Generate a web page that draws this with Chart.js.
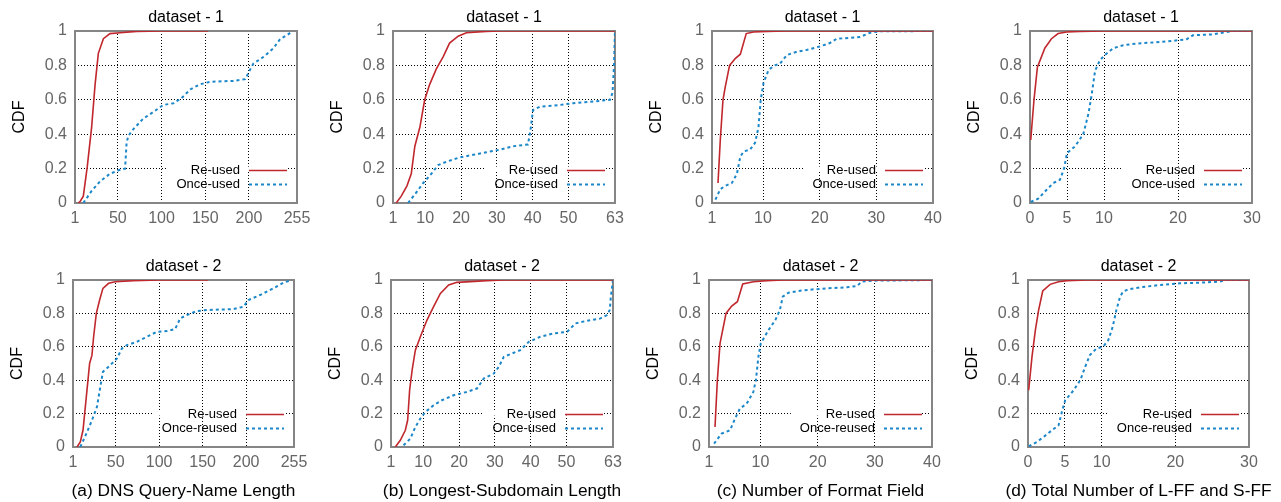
<!DOCTYPE html>
<html>
<head>
<meta charset="utf-8">
<script src="https://cdn.jsdelivr.net/npm/chart.js@4.4.1/dist/chart.umd.min.js"></script>
<style>
  body { margin: 0; width: 1281px; height: 502px; overflow: hidden; background: #fff; position: relative; }
  canvas { position: absolute; }
</style>
</head>
<body>
<script>
// x tick positions for each column
const dnsTicks = [1, 50, 100, 150, 200, 255];
const subTicks = [1, 10, 20, 30, 40, 50, 63];
const fmtTicks = [1, 10, 20, 30, 40];
const ffTicks = [0, 5, 10, 20, 30];
const cdfTicks = [0, 0.2, 0.4, 0.6, 0.8, 1];

// (a) DNS query-name length
const dns1ReX = [4.8, 7, 10.5, 15, 20, 24, 27.7, 33.5, 41, 52.6, 71.7, 100, 153];
const dns1ReY = [0, 0.01, 0.04, 0.21, 0.44, 0.69, 0.87, 0.955, 0.985, 0.99, 0.998, 1, 1];
const dns1OnceX = [10.5, 20, 29.6, 41, 50.7, 58.3, 60, 62, 67.8, 79, 90.8, 102, 113.7, 123, 132.8, 144, 155.7, 182, 195.8, 200.8, 205, 216.8, 228, 236, 243.5, 250];
const dns1OnceY = [0, 0.07, 0.125, 0.17, 0.19, 0.2, 0.35, 0.39, 0.43, 0.49, 0.53, 0.57, 0.58, 0.61, 0.66, 0.69, 0.705, 0.71, 0.72, 0.77, 0.81, 0.85, 0.9, 0.955, 0.975, 1];
const dns2ReX = [5.6, 9.4, 12.5, 16.3, 20.1, 22.8, 24.7, 27.8, 31.6, 35.4, 41.9, 49.6, 70.6, 100, 156];
const dns2ReY = [0, 0.03, 0.1, 0.3, 0.5, 0.55, 0.66, 0.8, 0.88, 0.95, 0.98, 0.99, 0.996, 1, 1];
const dns2OnceX = [9.4, 16.3, 22.8, 28.5, 32.4, 35.4, 43.8, 51.5, 57.2, 63, 74.4, 85.9, 97.4, 108.9, 118.4, 124.2, 131.8, 143.3, 154.8, 185.4, 196.9, 202.6, 216, 231.3, 242.8, 252.4];
const dns2OnceY = [0, 0.08, 0.16, 0.24, 0.36, 0.45, 0.49, 0.53, 0.59, 0.61, 0.63, 0.66, 0.69, 0.694, 0.706, 0.77, 0.79, 0.814, 0.82, 0.826, 0.84, 0.88, 0.91, 0.95, 0.984, 1];

// (b) longest-subdomain length
const sub1ReX = [1.9, 3.3, 4.9, 6.1, 7.1, 8.5, 9.85, 11.25, 13.1, 15, 16.8, 19.2, 21.5, 27, 30.8, 63];
const sub1ReY = [0, 0.04, 0.1, 0.17, 0.33, 0.44, 0.6, 0.69, 0.78, 0.85, 0.93, 0.97, 0.99, 0.998, 1, 1];
const sub1OnceX = [5.2, 7.1, 9.4, 11.7, 13.6, 15.9, 19.6, 23.4, 27.1, 30.8, 34.5, 38.7, 39.4, 40.1, 42, 47.6, 51.3, 56.9, 61.6, 62.3, 62.7, 63];
const sub1OnceY = [0, 0.05, 0.115, 0.17, 0.22, 0.24, 0.265, 0.28, 0.295, 0.31, 0.33, 0.34, 0.425, 0.54, 0.56, 0.57, 0.58, 0.59, 0.6, 0.64, 0.79, 1];
const sub2ReX = [2.2, 3.6, 5, 5.65, 6.2, 6.9, 7.8, 9.2, 11.05, 12.9, 14.8, 17.1, 19.4, 23.2, 27.8, 32.5, 63];
const sub2ReY = [0, 0.04, 0.1, 0.16, 0.34, 0.46, 0.58, 0.66, 0.76, 0.84, 0.92, 0.97, 0.986, 0.99, 0.996, 1, 1];
const sub2OnceX = [4.5, 6.4, 7.8, 9.2, 10.6, 12.9, 15.2, 18.5, 22.2, 25, 26.9, 29.7, 31.1, 32.5, 34.8, 37.1, 39.5, 42.7, 46.4, 50.2, 52.5, 55.7, 59.5, 61.3, 62.1, 62.4, 63];
const sub2OnceY = [0.01, 0.05, 0.12, 0.17, 0.21, 0.25, 0.28, 0.31, 0.33, 0.35, 0.41, 0.44, 0.48, 0.54, 0.56, 0.58, 0.63, 0.66, 0.68, 0.69, 0.74, 0.756, 0.77, 0.79, 0.82, 0.9, 1];

// (c) number of format field
const fmt1ReX = [2.06, 2.47, 2.94, 3.35, 4.1, 5.1, 6, 7.04, 8.3, 10.7, 14, 40];
const fmt1ReY = [0.116, 0.37, 0.6, 0.676, 0.8, 0.84, 0.865, 0.985, 0.994, 0.998, 1, 1];
const fmt1OnceX = [1.6, 2.47, 3.35, 4.5, 5.4, 6, 6.6, 7.7, 8.6, 9.2, 9.6, 10.1, 11, 12.1, 13, 14.2, 16, 17.7, 20, 21.8, 23, 25.3, 27.1, 28.9, 30.6, 40];
const fmt1OnceY = [0.02, 0.08, 0.1, 0.116, 0.17, 0.27, 0.3, 0.31, 0.35, 0.44, 0.6, 0.7, 0.775, 0.8, 0.81, 0.86, 0.88, 0.89, 0.91, 0.93, 0.955, 0.96, 0.965, 0.99, 0.998, 1];
const fmt2ReX = [2.05, 2.46, 2.93, 3.98, 4.97, 5.96, 6.9, 8.76, 11.1, 14, 40];
const fmt2ReY = [0.12, 0.4, 0.62, 0.8, 0.844, 0.87, 0.976, 0.99, 0.996, 1, 1];
const fmt2OnceX = [1.88, 3.2, 4.68, 5.55, 6.4, 7.6, 8.76, 9.2, 9.64, 10.05, 11.4, 12.6, 13.4, 13.9, 14.9, 16.9, 19.3, 21.6, 25.1, 26.9, 27.7, 29.8, 40];
const fmt2OnceY = [0.02, 0.08, 0.1, 0.17, 0.23, 0.26, 0.33, 0.4, 0.54, 0.62, 0.7, 0.76, 0.82, 0.9, 0.924, 0.936, 0.944, 0.95, 0.956, 0.964, 0.99, 0.996, 1];

// (d) total number of L-FF and S-FF
const ff1ReX = [0.1, 0.54, 1.0, 2.0, 2.9, 3.8, 4.95, 6.7, 10, 30];
const ff1ReY = [0.367, 0.6, 0.79, 0.9, 0.955, 0.985, 0.994, 0.998, 1, 1];
const ff1OnceX = [0.1, 1.1, 2.25, 3.15, 4.05, 4.6, 5.0, 6.1, 7.2, 7.9, 8.3, 8.8, 9.45, 10.1, 11.25, 12.6, 14.4, 17.5, 20, 21.1, 22, 24.7, 26.5, 27.4, 30];
const ff1OnceY = [0.006, 0.025, 0.077, 0.116, 0.135, 0.2, 0.29, 0.33, 0.4, 0.52, 0.62, 0.77, 0.83, 0.86, 0.9, 0.917, 0.927, 0.936, 0.946, 0.95, 0.975, 0.98, 0.994, 1, 1];
const ff2ReX = [0.09, 0.54, 1.0, 1.44, 2.0, 3.0, 4.15, 5.3, 8, 30];
const ff2ReY = [0.34, 0.54, 0.7, 0.82, 0.934, 0.974, 0.99, 0.996, 1, 1];
const ff2OnceX = [0.09, 1.2, 2.1, 3.25, 4.15, 4.6, 5.05, 6.2, 7.1, 7.76, 8.4, 9.3, 10.2, 10.9, 11.5, 12.0, 12.5, 12.9, 13.6, 15.2, 17.9, 20.6, 23.3, 26, 26.9, 30];
const ff2OnceY = [0.004, 0.03, 0.06, 0.1, 0.13, 0.21, 0.28, 0.34, 0.4, 0.48, 0.55, 0.59, 0.6, 0.64, 0.72, 0.82, 0.9, 0.93, 0.944, 0.956, 0.97, 0.98, 0.984, 0.99, 1, 1];

const FONT = "'Liberation Sans', Arial, Helvetica, sans-serif";
const RED = '#c0282d';
const BLUE = '#1b87c9';
Chart.defaults.font.family = FONT;

function pts(xs, ys) {
    return xs.map((x, i) => ({ x: x, y: ys[i] }));
}

// border, key (with the 0.2 grid line cleared behind it) and the sub-figure caption
const keyPlugin = {
    id: 'key',
    beforeDatasetsDraw(chart) {
        const { ctx, chartArea: a } = chart;
        const y = chart.scales.y.getPixelForValue(0.2);
        ctx.save();
        ctx.font = '13px ' + FONT;
        const w = Math.max(...chart.data.datasets.map(d => ctx.measureText(d.label).width));
        ctx.fillStyle = '#fff';
        ctx.fillRect(a.right - 57 - w - 9, y - 2, w + 9 + 47, 4);
        ctx.strokeStyle = '#858585';
        ctx.lineWidth = 2;
        ctx.strokeRect(a.left, a.top, a.right - a.left, a.bottom - a.top);
        ctx.restore();
    },
    afterDatasetsDraw(chart, args, opts) {
        const { ctx, chartArea: a } = chart;
        ctx.save();
        ctx.font = '13px ' + FONT;
        ctx.textAlign = 'right';
        ctx.textBaseline = 'middle';
        chart.data.datasets.forEach((d, i) => {
            const y = a.bottom - 32.5 + i * 14;
            ctx.fillStyle = '#000';
            ctx.fillText(d.label, a.right - 57, y);
            ctx.strokeStyle = d.borderColor;
            ctx.lineWidth = d.borderWidth;
            ctx.setLineDash(d.borderDash || []);
            ctx.beginPath();
            ctx.moveTo(a.right - 48, y);
            ctx.lineTo(a.right - 10, y);
            ctx.stroke();
        });
        if (opts.caption) {
            ctx.setLineDash([]);
            ctx.font = '17.3px ' + FONT;
            ctx.textAlign = 'center';
            ctx.fillStyle = '#000';
            ctx.fillText(opts.caption, (a.left + a.right) / 2, a.bottom + 44);
        }
        ctx.restore();
    }
};

function makePanel(p) {
    const [l, t, r, b] = p.rect;
    const bottomH = p.caption ? 55 : 30;
    const cv = document.createElement('canvas');
    cv.width = (r - l) + 105;
    cv.height = (b - t) + 31 + bottomH;
    cv.style.left = (l - 75) + 'px';
    cv.style.top = (t - 31) + 'px';
    document.body.appendChild(cv);

    const gridColor = (ctx) => {
        const v = ctx.tick ? ctx.tick.value : null;
        const s = ctx.scale;
        return (v === s.min || v === s.max) ? 'rgba(0,0,0,0)' : '#000';
    };

    new Chart(cv, {
        type: 'line',
        data: {
            datasets: [{
                label: 'Re-used',
                data: pts(p.reX, p.reY),
                borderColor: RED,
                borderWidth: 1.6,
                pointRadius: 0,
                tension: 0
            }, {
                label: p.onceLabel,
                data: pts(p.onceX, p.onceY),
                borderColor: BLUE,
                borderWidth: 2,
                borderDash: [3, 3],
                pointRadius: 0,
                tension: 0
            }]
        },
        options: {
            responsive: false,
            animation: false,
            layout: { padding: { left: 0, top: 0, right: 30, bottom: 0 } },
            plugins: {
                legend: { display: false },
                tooltip: { enabled: false },
                key: { caption: p.caption },
                title: {
                    display: true,
                    text: p.title,
                    color: '#000',
                    fullSize: false,
                    font: { size: 16, weight: 'normal' },
                    padding: { top: 8.4, bottom: 3.4 }
                }
            },
            scales: {
                x: {
                    type: 'linear',
                    min: p.xMin,
                    max: p.xMax,
                    afterBuildTicks: (s) => { s.ticks = p.xTicks.map(v => ({ value: v })); },
                    afterFit: (s) => { s.height = bottomH; },
                    ticks: { color: '#666', font: { size: 16 }, padding: 6, maxRotation: 0, autoSkip: false, callback: (v) => String(v) },
                    grid: { color: gridColor, lineWidth: 1, drawTicks: false },
                    border: { display: false, dash: [1, 2] }
                },
                y: {
                    min: 0,
                    max: 1,
                    afterBuildTicks: (s) => { s.ticks = cdfTicks.map(v => ({ value: v })); },
                    afterFit: (s) => { s.width = 75; },
                    ticks: { color: '#666', font: { size: 16 }, padding: 8, callback: (v) => String(v) },
                    grid: { color: gridColor, lineWidth: 1, drawTicks: false },
                    border: { display: false, dash: [1, 2] },
                    title: {
                        display: true,
                        text: 'CDF',
                        color: '#000',
                        font: { size: 16 },
                        padding: { top: 10, bottom: 0 }
                    }
                }
            }
        },
        plugins: [keyPlugin]
    });
}

const panels = [
    { rect: [75, 31, 297, 203], xMin: 1, xMax: 255, xTicks: dnsTicks, title: 'dataset - 1', onceLabel: 'Once-used', reX: dns1ReX, reY: dns1ReY, onceX: dns1OnceX, onceY: dns1OnceY },
    { rect: [393, 31, 615, 203], xMin: 1, xMax: 63, xTicks: subTicks, title: 'dataset - 1', onceLabel: 'Once-used', reX: sub1ReX, reY: sub1ReY, onceX: sub1OnceX, onceY: sub1OnceY },
    { rect: [712, 31, 933, 203], xMin: 1, xMax: 40, xTicks: fmtTicks, title: 'dataset - 1', onceLabel: 'Once-used', reX: fmt1ReX, reY: fmt1ReY, onceX: fmt1OnceX, onceY: fmt1OnceY },
    { rect: [1030, 31, 1252, 203], xMin: 0, xMax: 30, xTicks: ffTicks, title: 'dataset - 1', onceLabel: 'Once-used', reX: ff1ReX, reY: ff1ReY, onceX: ff1OnceX, onceY: ff1OnceY },
    { rect: [73, 280, 294, 447], xMin: 1, xMax: 255, xTicks: dnsTicks, title: 'dataset - 2', onceLabel: 'Once-reused', caption: '(a) DNS Query-Name Length', reX: dns2ReX, reY: dns2ReY, onceX: dns2OnceX, onceY: dns2OnceY },
    { rect: [391, 280, 613, 447], xMin: 1, xMax: 63, xTicks: subTicks, title: 'dataset - 2', onceLabel: 'Once-used', caption: '(b) Longest-Subdomain Length', reX: sub2ReX, reY: sub2ReY, onceX: sub2OnceX, onceY: sub2OnceY },
    { rect: [709, 280, 932, 447], xMin: 1, xMax: 40, xTicks: fmtTicks, title: 'dataset - 2', onceLabel: 'Once-reused', caption: '(c) Number of Format Field', reX: fmt2ReX, reY: fmt2ReY, onceX: fmt2OnceX, onceY: fmt2OnceY },
    { rect: [1028, 280, 1249, 447], xMin: 0, xMax: 30, xTicks: ffTicks, title: 'dataset - 2', onceLabel: 'Once-reused', caption: '(d) Total Number of L-FF and S-FF', reX: ff2ReX, reY: ff2ReY, onceX: ff2OnceX, onceY: ff2OnceY }
];

panels.forEach(makePanel);
</script>
</body>
</html>
